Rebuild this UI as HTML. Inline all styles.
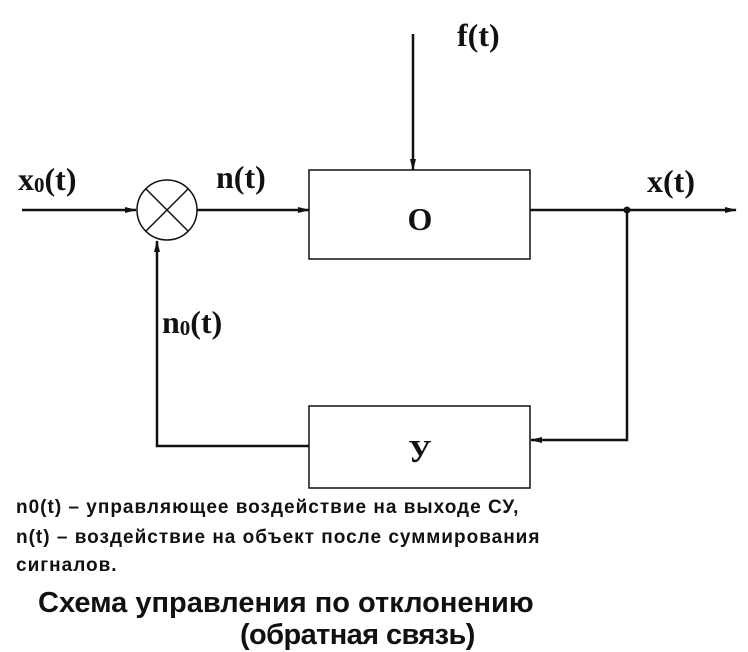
<!DOCTYPE html>
<html><head><meta charset="utf-8"><style>
html,body{margin:0;padding:0;background:#fff;width:748px;height:650px;overflow:hidden}
.t{position:absolute;left:16px;font-family:"Liberation Sans","Noto Sans CJK SC",sans-serif;font-weight:bold;color:#111;font-size:19px;letter-spacing:1px;white-space:nowrap}
.h{position:absolute;font-family:"Liberation Sans","Noto Sans CJK SC",sans-serif;font-weight:bold;color:#111;font-size:29px;white-space:nowrap}
</style></head><body>
<svg width="748" height="650" style="position:absolute;left:0;top:0" font-family="Liberation Serif, serif" font-weight="bold" fill="#111">
<defs><marker id="a" markerWidth="12" markerHeight="8" refX="11" refY="4" orient="auto" markerUnits="userSpaceOnUse"><path d="M0,1 L12,4 L0,7 Z" fill="#111"/></marker></defs>
<g stroke="#111" stroke-width="2.5" fill="none">
<line x1="22" y1="210" x2="136" y2="210" marker-end="url(#a)"/>
<circle cx="167" cy="210" r="30" stroke-width="1.5"/>
<line x1="146" y1="189" x2="188" y2="231" stroke-width="1.5"/>
<line x1="188" y1="189" x2="146" y2="231" stroke-width="1.5"/>
<line x1="197" y1="210" x2="309" y2="210" marker-end="url(#a)"/>
<rect x="309" y="170" width="221" height="89" stroke-width="1.5"/>
<line x1="413" y1="34" x2="413" y2="170" marker-end="url(#a)"/>
<line x1="530" y1="210" x2="736" y2="210" marker-end="url(#a)"/>
<polyline points="627,210 627,440 531,440" marker-end="url(#a)"/>
<rect x="309" y="406" width="221" height="82" stroke-width="1.5"/>
<polyline points="309,446 157,446 157,241" marker-end="url(#a)"/>
</g>
<circle cx="627" cy="210" r="3.5" fill="#111"/>
<text x="18" y="190" font-size="32">x<tspan font-size="21" dy="2">0</tspan><tspan dy="-2">(t)</tspan></text>
<text x="216" y="188" font-size="32">n(t)</text>
<text x="457" y="46" font-size="32">f(t)</text>
<text x="647" y="192" font-size="32">x(t)</text>
<text x="162" y="333" font-size="32">n<tspan font-size="21" dy="2">0</tspan><tspan dy="-2">(t)</tspan></text>
<text x="420" y="230" font-size="32" text-anchor="middle">О</text>
<text x="420" y="462" font-size="32" text-anchor="middle">У</text>
</svg>
<div class="t" style="top:497px">n0(t) – управляющее воздействие на выходе СУ,</div>
<div class="t" style="top:527px">n(t) – воздействие на объект после суммирования</div>
<div class="t" style="top:555px">сигналов.</div>
<div class="h" style="top:587px;left:38px">Схема управления по отклонению</div>
<div class="h" style="top:619px;left:240px;letter-spacing:-0.6px">(обратная связь)</div>
</body></html>
